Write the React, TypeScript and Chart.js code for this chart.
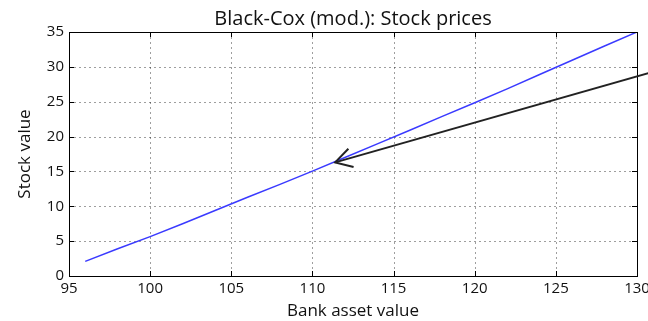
import React, { useEffect, useRef } from "react";
import { Chart, registerables } from "chart.js";

Chart.register(...registerables);

// Bank asset value (x) and resulting stock value (y)
const assetValues = [96, 98, 100, 102, 104, 106, 108, 110, 112, 114, 116, 118, 120, 122, 124, 126, 128, 130];
const stockValues = [2.1, 3.9, 5.65, 7.5, 9.4, 11.3, 13.15, 15.05, 17.0, 18.95, 20.9, 22.9, 24.85, 26.85, 28.9, 30.95, 33.0, 35.0];

const xTickValues = [95, 100, 105, 110, 115, 120, 125, 130];
const yTickValues = [0, 5, 10, 15, 20, 25, 30, 35];

const chartTitle = "Black-Cox (mod.): Stock prices";

// Annotation arrow, in data coordinates: tip on the curve, tail off to the right
const arrowTip = [111.4, 16.3];
const arrowTail = [131, 29.3];

const FONT = "'Open Sans', sans-serif";

// Title centred over the plot area (not over the whole canvas)
const plotTitlePlugin = {
  id: "plotTitle",
  afterDraw(chart: any) {
    const { ctx, chartArea: a } = chart;
    ctx.save();
    ctx.fillStyle = "#111";
    ctx.font = `20px ${FONT}`;
    ctx.textAlign = "center";
    ctx.textBaseline = "alphabetic";
    ctx.fillText(chartTitle, (a.left + a.right) / 2, a.top - 7);
    ctx.restore();
  },
};

// Dotted grid, closed frame and inward tick marks on all four sides
const frameGridPlugin = {
  id: "frameGrid",
  beforeDatasetsDraw(chart: any) {
    const { ctx, chartArea: a, scales } = chart;
    ctx.save();
    ctx.strokeStyle = "rgba(0,0,0,0.38)";
    ctx.lineWidth = 1;
    ctx.setLineDash([2, 3]);
    for (const v of xTickValues) {
      const x = Math.round(scales.x.getPixelForValue(v)) + 0.5;
      if (x <= a.left + 1 || x >= a.right - 1) continue;
      ctx.beginPath();
      ctx.moveTo(x, a.top);
      ctx.lineTo(x, a.bottom);
      ctx.stroke();
    }
    for (const v of yTickValues) {
      const y = Math.round(scales.y.getPixelForValue(v)) + 0.5;
      if (y <= a.top + 1 || y >= a.bottom - 1) continue;
      ctx.beginPath();
      ctx.moveTo(a.left, y);
      ctx.lineTo(a.right, y);
      ctx.stroke();
    }
    ctx.restore();
  },
  afterDatasetsDraw(chart: any) {
    const { ctx, chartArea: a, scales } = chart;
    ctx.save();
    ctx.setLineDash([]);
    ctx.strokeStyle = "#000";
    ctx.lineWidth = 1;
    const tl = 5;
    for (const v of xTickValues) {
      const x = Math.round(scales.x.getPixelForValue(v)) + 0.5;
      ctx.beginPath();
      ctx.moveTo(x, a.bottom);
      ctx.lineTo(x, a.bottom - tl);
      ctx.moveTo(x, a.top);
      ctx.lineTo(x, a.top + tl);
      ctx.stroke();
    }
    for (const v of yTickValues) {
      const y = Math.round(scales.y.getPixelForValue(v)) + 0.5;
      ctx.beginPath();
      ctx.moveTo(a.left, y);
      ctx.lineTo(a.left + tl, y);
      ctx.moveTo(a.right, y);
      ctx.lineTo(a.right - tl, y);
      ctx.stroke();
    }
    ctx.strokeRect(Math.round(a.left) + 0.5, Math.round(a.top) + 0.5, Math.round(a.right - a.left), Math.round(a.bottom - a.top));
    ctx.restore();
  },
};

const arrowPlugin = {
  id: "arrowNote",
  afterDraw(chart: any) {
    const { ctx, scales } = chart;
    const tx = scales.x.getPixelForValue(arrowTip[0]);
    const ty = scales.y.getPixelForValue(arrowTip[1]);
    const sx = scales.x.getPixelForValue(arrowTail[0]);
    const sy = scales.y.getPixelForValue(arrowTail[1]);
    const ang = Math.atan2(sy - ty, sx - tx);
    const head = 19;
    const spread = Math.PI / 6;
    ctx.save();
    ctx.strokeStyle = "#222";
    ctx.lineWidth = 2;
    ctx.lineCap = "butt";
    ctx.beginPath();
    ctx.moveTo(sx, sy);
    ctx.lineTo(tx, ty);
    ctx.stroke();
    ctx.beginPath();
    ctx.moveTo(tx + head * Math.cos(ang - spread), ty + head * Math.sin(ang - spread));
    ctx.lineTo(tx, ty);
    ctx.lineTo(tx + head * Math.cos(ang + spread), ty + head * Math.sin(ang + spread));
    ctx.stroke();
    ctx.restore();
  },
};

export default function App() {
  const canvasRef = useRef<HTMLCanvasElement | null>(null);

  useEffect(() => {
    document.body.style.margin = "0";
    const canvas = canvasRef.current;
    if (!canvas) return;
    const chart = new Chart(canvas, {
      type: "line",
      data: {
        datasets: [
          {
            data: assetValues.map((x, i) => ({ x, y: stockValues[i] })),
            borderColor: "#3a3aff",
            borderWidth: 1.5,
            pointRadius: 0,
            fill: false,
            tension: 0,
          },
        ],
      },
      options: {
        responsive: false,
        animation: false,
        layout: { padding: { top: 32, left: 0, right: 11, bottom: 0 } },
        plugins: {
          legend: { display: false },
          tooltip: { enabled: false },
          title: { display: false },
        },
        scales: {
          x: {
            type: "linear",
            min: 95,
            max: 130,
            grid: { display: false, drawTicks: false },
            border: { display: false },
            afterBuildTicks: (s: any) => {
              s.ticks = xTickValues.map((v) => ({ value: v }));
            },
            ticks: {
              autoSkip: false,
              maxRotation: 0,
              padding: 4,
              color: "#111",
              font: { family: FONT, size: 15 },
            },
            title: {
              display: true,
              text: "Bank asset value",
              color: "#111",
              font: { family: FONT, size: 17, lineHeight: 1.2 },
              padding: { top: 0, bottom: 0 },
            },
            afterFit: (s: any) => {
              s.height = 45;
              s.paddingLeft = 0;
              s.paddingRight = 0;
            },
          },
          y: {
            type: "linear",
            min: 0,
            max: 35,
            grid: { display: false, drawTicks: false },
            border: { display: false },
            afterBuildTicks: (s: any) => {
              s.ticks = yTickValues.map((v) => ({ value: v }));
            },
            ticks: {
              autoSkip: false,
              padding: 5,
              color: "#111",
              font: { family: FONT, size: 15 },
            },
            title: {
              display: true,
              text: "Stock value",
              color: "#111",
              font: { family: FONT, size: 17, lineHeight: 1.2 },
              padding: { top: 15, bottom: 0 },
            },
            afterFit: (s: any) => {
              s.width = 69;
              s.paddingTop = 0;
              s.paddingBottom = 0;
            },
          },
        },
      },
      plugins: [frameGridPlugin, arrowPlugin, plotTitlePlugin],
    });
    return () => chart.destroy();
  }, []);

  return (
    <div style={{ width: 648, height: 321 }}>
      <canvas ref={canvasRef} width={648} height={321} style={{ display: "block" }} />
    </div>
  );
}
